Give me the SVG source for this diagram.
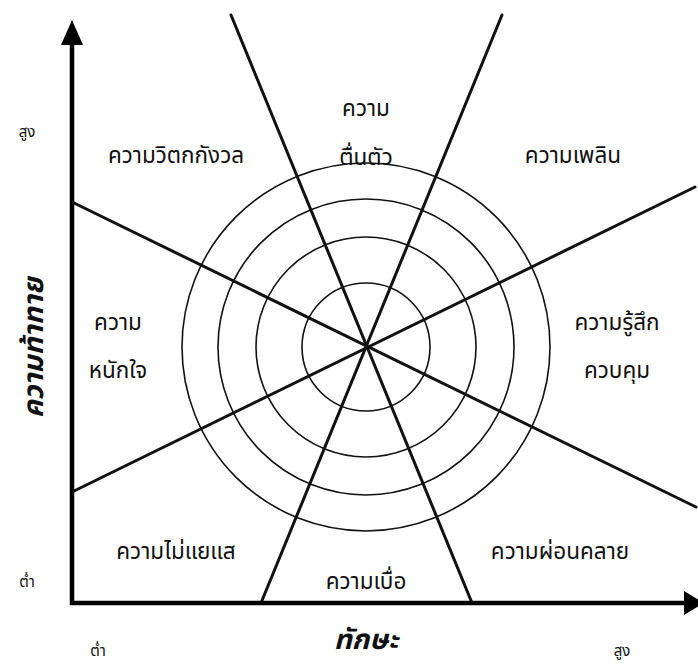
<svg xmlns="http://www.w3.org/2000/svg" width="698" height="666" viewBox="0 0 698 666">
<style>
.lbl{font-family:"Noto Sans Thai","Noto Sans","DejaVu Sans",sans-serif;font-size:22.5px;fill:#111;text-anchor:middle}
.sm{font-family:"Noto Sans Thai","Noto Sans","DejaVu Sans",sans-serif;font-size:15px;fill:#111;text-anchor:middle}
.ax{font-family:"Noto Sans Thai","Noto Sans","DejaVu Sans",sans-serif;font-size:28px;font-weight:bold;font-style:italic;fill:#111;text-anchor:middle}
.ring{fill:none;stroke:#111;stroke-width:1.6}
.spoke{stroke:#111;stroke-width:3;stroke-linecap:round}
.axis{stroke:#000;stroke-width:4.5}
</style>
<rect width="698" height="666" fill="#fff"/>
<g id="rings">
<circle class="ring" cx="366" cy="347" r="64"/>
<circle class="ring" cx="366" cy="347" r="110"/>
<circle class="ring" cx="366" cy="347" r="148"/>
<circle class="ring" cx="366" cy="347" r="184"/>
</g>
<g id="connectors">
<line class="spoke" x1="231" y1="15" x2="472" y2="603"/>
<line class="spoke" x1="502" y1="15" x2="261" y2="603"/>
<line class="spoke" x1="72" y1="202" x2="696" y2="507"/>
<line class="spoke" x1="72" y1="492" x2="695" y2="187"/>
</g>
<g id="axes">
<line class="axis" x1="72" y1="605" x2="72" y2="40"/>
<polygon points="72,20 61,45 83,45" fill="#000"/>
<line class="axis" x1="70" y1="603" x2="686" y2="603"/>
<polygon points="704,603 684,591 684,615" fill="#000"/>
</g>
<g id="n-arousal"><text class="lbl" x="366" y="116">ความ</text><text class="lbl" x="366" y="165">ตื่นตัว</text></g>
<g id="n-anxiety"><text class="lbl" x="176" y="163">ความวิตกกังวล</text></g>
<g id="n-flow"><text class="lbl" x="573" y="163">ความเพลิน</text></g>
<g id="n-worry"><text class="lbl" x="118" y="330">ความ</text><text class="lbl" x="118" y="378">หนักใจ</text></g>
<g id="n-control"><text class="lbl" x="617" y="330">ความรู้สึก</text><text class="lbl" x="617" y="378">ควบคุม</text></g>
<g id="n-apathy"><text class="lbl" x="176" y="559">ความไม่แยแส</text></g>
<g id="n-boredom"><text class="lbl" x="366" y="589">ความเบื่อ</text></g>
<g id="n-relax"><text class="lbl" x="560" y="559">ความผ่อนคลาย</text></g>
<g id="axis-labels">
<text class="sm" x="27" y="137">สูง</text>
<text class="sm" x="27" y="587">ต่ำ</text>
<text class="sm" x="98" y="656">ต่ำ</text>
<text class="sm" x="622" y="656">สูง</text>
<text class="ax" x="366" y="649">ทักษะ</text>
<text class="ax" transform="translate(43,348) rotate(-90)" x="0" y="0">ความท้าทาย</text>
</g>
</svg>
